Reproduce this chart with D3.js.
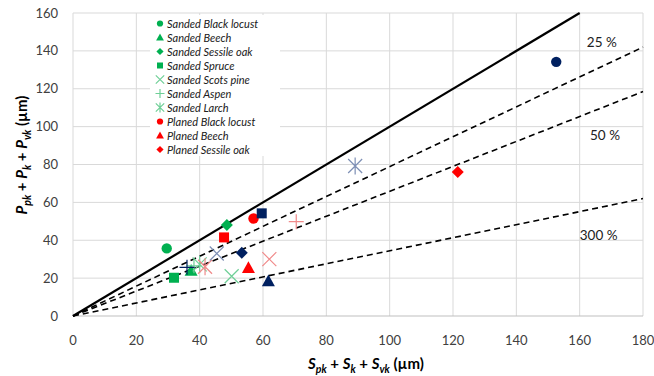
<!DOCTYPE html>
<html>
<head>
<meta charset="utf-8">
<script src="https://cdn.jsdelivr.net/npm/d3@7"></script>
<style>
  body { margin: 0; background: #fff; }
  svg { font-family: Lato, "Open Sans", sans-serif; }
  .tick-label { font-size: 13px; fill: #404040; }
  .legend-text { font-size: 11px; font-style: italic; fill: #202020; }
  .axis-title { font-size: 15px; font-weight: bold; font-style: italic; fill: #000; }
  .ratio-label { font-size: 13.5px; fill: #202020; }
</style>
</head>
<body>
<div id="chart"></div>
<script>
const width = 654, height = 376;
const margin = { top: 13, right: 11, bottom: 60, left: 73 };

const xTicks = [0, 20, 40, 60, 80, 100, 120, 140, 160, 180];
const yTicks = [0, 20, 40, 60, 80, 100, 120, 140, 160];

// series: name, group colour, marker; values [S, P]
const seriesNames = [
    "Sanded Black locust", "Sanded Beech", "Sanded Sessile oak", "Sanded Spruce",
    "Sanded Scots pine", "Sanded Aspen", "Sanded Larch",
    "Planed Black locust", "Planed Beech", "Planed Sessile oak", "Planed Spruce",
    "Planed Scots pine", "Planed Aspen", "Planed Larch",
    "Brushed Black locust", "Brushed Beech", "Brushed Sessile oak", "Brushed Spruce",
    "Brushed Scots pine", "Brushed Aspen", "Brushed Larch"
];
const seriesGroup = [
    "sanded", "sanded", "sanded", "sanded", "sanded", "sanded", "sanded",
    "planed", "planed", "planed", "planed", "planed", "planed", "planed",
    "brushed", "brushed", "brushed", "brushed", "brushed", "brushed", "brushed"
];
const seriesMarker = [
    "circle", "triangle", "diamond", "square", "x", "plus", "star",
    "circle", "triangle", "diamond", "square", "x", "plus", "star",
    "circle", "triangle", "diamond", "square", "x", "plus", "star"
];
const seriesS = [29.6, 37.3, 48.6, 31.9, 50.1, 38.2, 40.0,
                 57.0, 55.4, 121.5, 47.7, 62.0, 70.5, 41.7,
                 152.6, 61.7, 53.3, 59.6, 45.4, 36.0, 89.1];
const seriesP = [35.7, 24.0, 48.0, 20.2, 21.0, 26.5, 27.3,
                 51.5, 25.5, 76.1, 41.5, 30.0, 49.8, 26.0,
                 134.2, 18.5, 33.4, 54.2, 33.0, 25.7, 79.2];
const legendCount = 10;

// reference lines: value of P at S = 180
const ratioLabels = ["25 %", "50 %", "300 %"];
const ratioEnd = [142, 118.5, 62];
const ratioLabelPos = [[167, 144.7], [168, 95.5], [166, 42.7]];

const groupColors = { sanded: "#00b050", planed: "#ff0000", brushed: "#002060" };
const lightColors = { sanded: "#6fcf97", planed: "#f08a8a", brushed: "#7d8fb5" };

const svg = d3.select("#chart").append("svg")
    .attr("width", width)
    .attr("height", height);

const x = d3.scaleLinear().domain([0, 180]).range([margin.left, width - margin.right]);
const y = d3.scaleLinear().domain([0, 160]).range([height - margin.bottom, margin.top]);

// grid
svg.append("g").selectAll("line.vgrid")
    .data(xTicks.slice(1))
    .join("line")
    .attr("x1", d => x(d)).attr("x2", d => x(d))
    .attr("y1", y(0)).attr("y2", y(160))
    .attr("stroke", "#d9d9d9").attr("stroke-width", 1);

svg.append("g").selectAll("line.hgrid")
    .data(yTicks.slice(1))
    .join("line")
    .attr("x1", x(0)).attr("x2", x(180))
    .attr("y1", d => y(d)).attr("y2", d => y(d))
    .attr("stroke", "#d9d9d9").attr("stroke-width", 1);

// axes lines
svg.append("line")
    .attr("x1", x(0)).attr("x2", x(180))
    .attr("y1", y(0)).attr("y2", y(0))
    .attr("stroke", "#bfbfbf");
svg.append("line")
    .attr("x1", x(0)).attr("x2", x(0))
    .attr("y1", y(0)).attr("y2", y(160))
    .attr("stroke", "#d9d9d9");

// tick labels
svg.append("g").selectAll("text")
    .data(xTicks)
    .join("text")
    .attr("class", "tick-label")
    .attr("x", d => x(d))
    .attr("y", y(0) + 29)
    .attr("text-anchor", "middle")
    .text(d => d);

svg.append("g").selectAll("text")
    .data(yTicks)
    .join("text")
    .attr("class", "tick-label")
    .attr("x", x(0) - 15)
    .attr("y", d => y(d) + 4.5)
    .attr("text-anchor", "end")
    .text(d => d);

// legend background
svg.append("rect")
    .attr("x", 150).attr("y", 15)
    .attr("width", 130).attr("height", 141)
    .attr("fill", "#fff");

// reference lines
svg.append("line")
    .attr("x1", x(0)).attr("y1", y(0))
    .attr("x2", x(160)).attr("y2", y(160))
    .attr("stroke", "#000").attr("stroke-width", 2.2);

svg.append("g").selectAll("line")
    .data(ratioEnd)
    .join("line")
    .attr("x1", x(0)).attr("y1", y(0))
    .attr("x2", x(180)).attr("y2", d => y(d))
    .attr("stroke", "#000").attr("stroke-width", 1.6)
    .attr("stroke-dasharray", "6,4");

svg.append("g").selectAll("text")
    .data(ratioLabels)
    .join("text")
    .attr("class", "ratio-label")
    .attr("x", (d, i) => x(ratioLabelPos[i][0]))
    .attr("y", (d, i) => y(ratioLabelPos[i][1]) + 5)
    .attr("text-anchor", "middle")
    .text(d => d);

function drawMarker(g, type, group, cx, cy, scale) {
    const c = groupColors[group];
    const lc = lightColors[group];
    const k = scale || 1;
    if (type === "circle") {
        g.append("circle").attr("cx", cx).attr("cy", cy).attr("r", 5.2 * k).attr("fill", c);
    } else if (type === "square") {
        const s = 10 * k;
        g.append("rect").attr("x", cx - s / 2).attr("y", cy - s / 2)
            .attr("width", s).attr("height", s).attr("fill", c);
    } else if (type === "diamond") {
        const s = 6 * k;
        g.append("path")
            .attr("d", `M${cx},${cy - s}L${cx + s},${cy}L${cx},${cy + s}L${cx - s},${cy}Z`)
            .attr("fill", c);
    } else if (type === "triangle") {
        const s = 6.5 * k;
        g.append("path")
            .attr("d", `M${cx},${cy - s}L${cx + s},${cy + s * 0.8}L${cx - s},${cy + s * 0.8}Z`)
            .attr("fill", c);
    } else if (type === "x") {
        const s = 7 * k;
        g.append("path")
            .attr("d", `M${cx - s},${cy - s}L${cx + s},${cy + s}M${cx - s},${cy + s}L${cx + s},${cy - s}`)
            .attr("stroke", lc).attr("stroke-width", 1.2).attr("fill", "none");
    } else if (type === "plus") {
        const s = 7.5 * k;
        g.append("path")
            .attr("d", `M${cx - s},${cy}L${cx + s},${cy}M${cx},${cy - s}L${cx},${cy + s}`)
            .attr("stroke", group === "brushed" ? c : lc).attr("stroke-width", 1.2).attr("fill", "none");
    } else if (type === "star") {
        const s = 7 * k;
        g.append("path")
            .attr("d", `M${cx - s},${cy - s}L${cx + s},${cy + s}M${cx - s},${cy + s}L${cx + s},${cy - s}M${cx},${cy - s * 1.2}L${cx},${cy + s * 1.2}`)
            .attr("stroke", lc).attr("stroke-width", 1.2).attr("fill", "none");
    }
}

// points
const points = svg.append("g");
seriesNames.forEach((name, i) => {
    drawMarker(points, seriesMarker[i], seriesGroup[i], x(seriesS[i]), y(seriesP[i]), 1);
});

// legend
const legend = svg.append("g");
seriesNames.slice(0, legendCount).forEach((name, i) => {
    const ly = 23.5 + i * 14;
    drawMarker(legend, seriesMarker[i], seriesGroup[i], 160, ly, 0.6);
    legend.append("text")
        .attr("class", "legend-text")
        .attr("x", 167)
        .attr("y", ly + 4)
        .text(name);
});

// axis titles: parts are [text, kind] with kind "", "sub" or "up" (upright)
function addTitle(text, parts) {
    let shifted = false;
    parts.forEach(([t, k]) => {
        const ts = text.append("tspan").text(t);
        if (k === "sub") {
            ts.attr("font-size", "10.5px").attr("dy", 4);
            shifted = true;
        } else {
            ts.attr("dy", shifted ? -4 : 0);
            shifted = false;
            if (k === "up") ts.attr("font-style", "normal");
        }
    });
}

addTitle(svg.append("text")
    .attr("class", "axis-title")
    .attr("x", 366)
    .attr("y", 369)
    .attr("text-anchor", "middle"),
    [["S", ""], ["pk", "sub"], [" + ", "up"], ["S", ""], ["k", "sub"], [" + ", "up"], ["S", ""], ["vk", "sub"], [" (µm)", "up"]]);

addTitle(svg.append("text")
    .attr("class", "axis-title")
    .attr("transform", "translate(27,155) rotate(-90)")
    .attr("text-anchor", "middle"),
    [["P", ""], ["pk", "sub"], [" + ", "up"], ["P", ""], ["k", "sub"], [" + ", "up"], ["P", ""], ["vk", "sub"], [" (µm)", "up"]]);
</script>
</body>
</html>
